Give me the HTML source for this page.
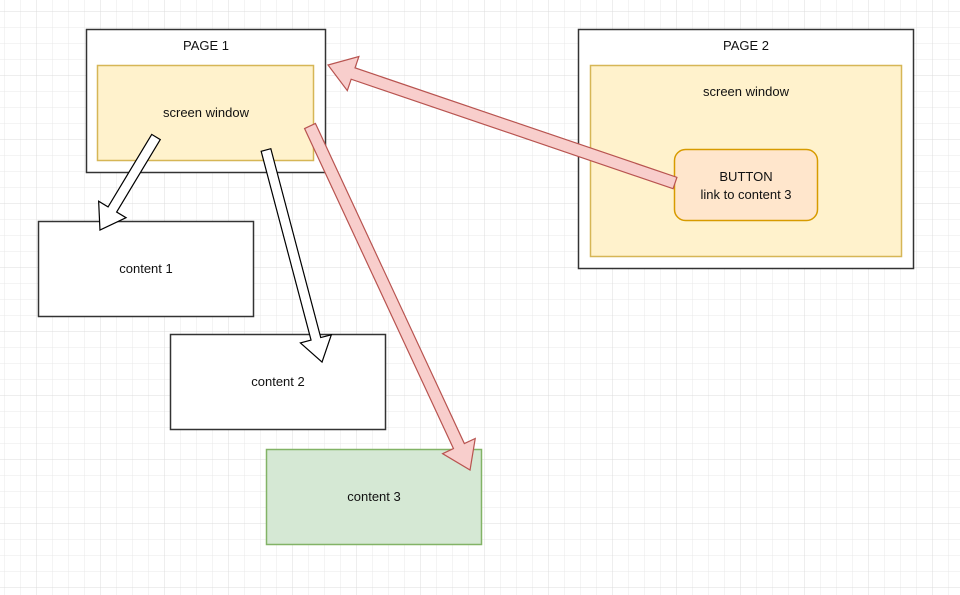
<!DOCTYPE html>
<html><head><meta charset="utf-8"><style>
html,body{margin:0;padding:0;background:#fff;}
body{width:960px;height:595px;overflow:hidden;position:relative;font-family:"Liberation Sans",Arial,sans-serif;}
</style></head><body>
<svg width="960" height="595" xmlns="http://www.w3.org/2000/svg" style="position:absolute;left:0;top:0">
<defs>
<pattern id="minor" width="16" height="16" patternUnits="userSpaceOnUse" x="5" y="12">
<path d="M16 0V16M0 16H16" stroke="#e9e9e9" stroke-width="1" fill="none"/></pattern>
<pattern id="major" width="64" height="64" patternUnits="userSpaceOnUse" x="37" y="12">
<path d="M64 0V64M0 64H64" stroke="#dcdcdc" stroke-width="1" fill="none"/></pattern>
</defs>
<rect width="960" height="595" fill="url(#minor)"/>
<rect width="960" height="595" fill="url(#major)"/>

<g stroke-width="1.5">
<rect x="86.5" y="29.5" width="239" height="143" fill="#fff" stroke="#333"/>
<rect x="97.5" y="65.5" width="216" height="95" fill="#fff2cc" stroke="#d6b656"/>
<rect x="578.5" y="29.5" width="335" height="239" fill="#fff" stroke="#333"/>
<rect x="590.5" y="65.5" width="311" height="191" fill="#fff2cc" stroke="#d6b656"/>
<rect x="674.5" y="149.5" width="143" height="71" rx="11" fill="#ffe6cc" stroke="#d79b00"/>
<rect x="38.5" y="221.5" width="215" height="95" fill="#fff" stroke="#333"/>
<rect x="170.5" y="334.5" width="215" height="95" fill="#fff" stroke="#333"/>
<rect x="266.5" y="449.5" width="215" height="95" fill="#d5e8d4" stroke="#82b366"/>
</g>

<g transform="translate(156,137) rotate(121.06)"><polygon points="0,-5 84.6,-5 84.6,-16 108.6,0 84.6,16 84.6,5 0,5" fill="#fff" stroke="#000" stroke-width="1.2"/></g>
<g transform="translate(266,150) rotate(75.2)"><polygon points="0,-5 195.3,-5 195.3,-16 219.3,0 195.3,16 195.3,5 0,5" fill="#fff" stroke="#000" stroke-width="1.2"/></g>
<g transform="translate(310,126) rotate(65.05)"><polygon points="0,-6 353,-6 353,-18 379.4,0 353,18 353,6 0,6" fill="#f8cecc" stroke="#b85450" stroke-width="1.2"/></g>
<g transform="translate(675,183) rotate(198.78)"><polygon points="0,-6 340,-6 340,-18 366.5,0 340,18 340,6 0,6" fill="#f8cecc" stroke="#b85450" stroke-width="1.2"/></g>

<g font-family="Liberation Sans, Arial, sans-serif" font-size="13" fill="#111" text-anchor="middle">
<text x="206" y="50">PAGE 1</text>
<text x="206" y="117">screen window</text>
<text x="746" y="50">PAGE 2</text>
<text x="746" y="96">screen window</text>
<text x="746" y="181">BUTTON</text>
<text x="746" y="199">link to content 3</text>
<text x="146" y="273">content 1</text>
<text x="278" y="386">content 2</text>
<text x="374" y="501">content 3</text>
</g>
</svg>
</body></html>
